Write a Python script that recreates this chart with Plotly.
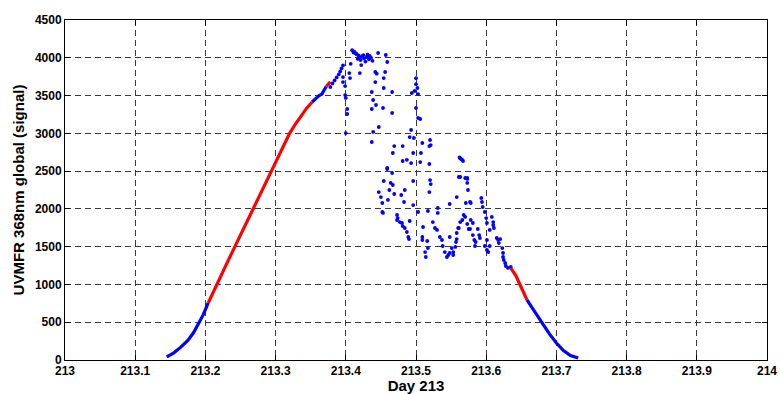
import plotly.graph_objects as go

# Smooth rising part (blue, red, blue, red)
rise_blue1_x = [213.145, 213.155, 213.165, 213.175, 213.183, 213.190, 213.197, 213.204]
rise_blue1_y = [40, 95, 170, 260, 360, 470, 600, 755]
rise_red1_x = [213.204, 213.216, 213.229, 213.242, 213.255, 213.268, 213.282, 213.295, 213.308, 213.320, 213.328, 213.336, 213.344, 213.352]
rise_red1_y = [755, 1000, 1250, 1500, 1750, 2000, 2250, 2500, 2760, 3000, 3120, 3230, 3330, 3415]
rise_blue2_x = [213.352, 213.357, 213.362, 213.366, 213.370, 213.372]
rise_blue2_y = [3415, 3460, 3500, 3520, 3580, 3620]
rise_red2_x = [213.372, 213.375, 213.378]
rise_red2_y = [3620, 3650, 3680]

# Smooth falling part (red then blue)
fall_red_x = [213.635, 213.642, 213.650, 213.658]
fall_red_y = [1215, 1120, 960, 795]
fall_blue_x = [213.658, 213.670, 213.680, 213.690, 213.700, 213.710, 213.720, 213.731]
fall_blue_y = [795, 620, 480, 345, 225, 125, 60, 25]

# Scattered (cloudy) blue samples
scatter_x = [
    213.378, 213.381, 213.384, 213.387, 213.390, 213.392, 213.394, 213.396,
    213.409, 213.412, 213.415, 213.418, 213.420, 213.423, 213.426, 213.430, 213.433, 213.436, 213.438,
    213.411, 213.414, 213.417, 213.421, 213.425, 213.428, 213.431, 213.434,
    213.407, 213.422, 213.420, 213.396, 213.405, 213.406, 213.396, 213.399, 213.399, 213.400, 213.402, 213.402, 213.400,
    213.446, 213.457, 213.459,
    213.442, 213.444, 213.456, 213.442, 213.454, 213.437, 213.454, 213.439, 213.443, 213.437, 213.453, 213.466, 213.466,
    213.447, 213.439, 213.437, 213.469, 213.481,
    213.500, 213.500, 213.502, 213.498, 213.503, 213.494, 213.500, 213.503, 213.506, 213.493, 213.491, 213.497,
    213.520, 213.521, 213.509, 213.519,
    213.467, 213.496, 213.507, 213.481, 213.493, 213.506, 213.519, 213.487, 213.459,
    213.563, 213.564, 213.566, 213.562,
    213.459, 213.466, 213.454, 213.464, 213.467, 213.447, 213.462, 213.469, 213.450, 213.460, 213.452, 213.452, 213.453,
    213.484, 213.479, 213.483, 213.496, 213.520, 213.521, 213.519,
    213.496, 213.503, 213.517, 213.531, 213.531, 213.548, 213.558, 213.563, 213.573, 213.574, 213.571,
    213.473, 213.474, 213.473, 213.477, 213.480, 213.481, 213.484, 213.487, 213.489, 213.490, 213.491,
    213.510, 213.509, 213.509, 213.516, 213.517, 213.513, 213.514,
    213.524, 213.527, 213.530, 213.534, 213.537, 213.538, 213.541, 213.544, 213.546, 213.548,
    213.551, 213.556, 213.557, 213.558, 213.560, 213.563, 213.566, 213.568, 213.573, 213.575,
    213.567, 213.561, 213.570, 213.573, 213.573, 213.577, 213.578, 213.570, 213.578, 213.581,
    213.577, 213.561, 213.558, 213.581, 213.583, 213.585, 213.584, 213.590, 213.588, 213.591,
    213.548, 213.553, 213.553,
    213.593, 213.594, 213.595, 213.598, 213.600, 213.601, 213.601, 213.598, 213.601, 213.603, 213.605,
    213.608, 213.610, 213.610, 213.611, 213.605, 213.615, 213.617, 213.620, 213.618, 213.623,
    213.624, 213.624, 213.625, 213.627, 213.628, 213.631, 213.635,
]
scatter_y = [
    3613, 3660, 3700, 3740, 3780, 3820, 3860, 3900,
    4100, 4080, 4050, 4030, 4000, 4020, 3990, 4010, 3980, 4000, 3960,
    4070, 4060, 3985, 3970, 4035, 3950, 4040, 4025,
    3920, 3904, 3798, 3745, 3798, 3732, 3679, 3626, 3507, 3468, 3322, 3256, 3004,
    4063, 4037, 3944,
    3812, 3790, 3812, 3679, 3732, 3547, 3600, 3441, 3375, 3322, 3335, 3547, 3269,
    3084, 3018, 2885, 2832, 2832,
    3730, 3650, 3600, 3560, 3520, 3534, 3335, 3203, 3190, 3044, 2951, 2938,
    2912, 2845, 2872, 2832,
    2740, 2740, 2740, 2634, 2607, 2620, 2594, 2650, 2541,
    2670, 2660, 2650, 2680,
    2528, 2475, 2369, 2343, 2316, 2223, 2250, 2197, 2157, 2118, 2078, 1959, 1946,
    2250, 2184, 2091, 2369, 2382, 2329, 2223,
    2051, 1959, 1972, 2012, 1946, 2065, 2157, 2422, 2409, 2250, 2078,
    1919, 1879, 1853, 1826, 1813, 1773, 1747, 1694, 1628, 1601, 1840,
    1760, 1628, 1588, 1575, 1482, 1429, 1363,
    1826, 1747, 1721, 1628, 1588, 1509, 1429, 1363, 1390, 1416,
    1482, 1496, 1562, 1681, 1747, 1826, 1853, 1919, 1800, 1734,
    2634, 2422, 2409, 2396, 2343, 2091, 2078, 1893, 1853, 1813,
    1734, 1747, 1601, 1654, 1588, 1562, 1509, 1654, 1734, 1615,
    1628, 1429, 1390,
    2144, 2091, 2025, 1959, 1879, 1813, 1588, 1509, 1456, 1429, 1509,
    1893, 1826, 1787, 1747, 1721, 1615, 1588, 1601, 1548, 1482,
    1416, 1363, 1324, 1284, 1244, 1218, 1231,
]

x_ticks = [213, 213.1, 213.2, 213.3, 213.4, 213.5, 213.6, 213.7, 213.8, 213.9, 214]
x_labels = ["213", "213.1", "213.2", "213.3", "213.4", "213.5", "213.6", "213.7", "213.8", "213.9", "214"]
y_ticks = [0, 500, 1000, 1500, 2000, 2500, 3000, 3500, 4000, 4500]

BLUE = "#0000ff"
RED = "#ff0000"

fig = go.Figure()

def line(x, y, color):
    fig.add_trace(go.Scatter(x=x, y=y, mode="lines", line=dict(color=color, width=3.2),
                             showlegend=False, hoverinfo="skip"))

fig.add_trace(go.Scatter(x=scatter_x, y=scatter_y, mode="markers",
                         marker=dict(color=BLUE, size=3.8, line=dict(width=0)),
                         showlegend=False))
line(rise_blue1_x, rise_blue1_y, BLUE)
line(rise_red1_x, rise_red1_y, RED)
line(rise_blue2_x, rise_blue2_y, BLUE)
line(rise_red2_x, rise_red2_y, RED)
line(fall_red_x, fall_red_y, RED)
line(fall_blue_x, fall_blue_y, BLUE)

font_family = "Liberation Sans, Arial, sans-serif"
axis_common = dict(
    showline=True, linecolor="black", linewidth=1, mirror="ticks",
    ticks="inside", ticklen=5, tickcolor="black", tickwidth=1,
    showgrid=True, gridcolor="#3a3a3a", gridwidth=1, griddash="6px,4px",
    zeroline=False,
    tickfont=dict(family=font_family, size=12, color="black", weight="bold"),
)

fig.update_xaxes(range=[213, 214], tickvals=x_ticks, ticktext=x_labels,
                 title=dict(text="Day 213", standoff=2,
                            font=dict(family=font_family, size=15, color="black", weight="bold")),
                 **axis_common)
fig.update_yaxes(range=[0, 4500], tickvals=y_ticks,
                 title=dict(text="UVMFR 368nm global (signal)", standoff=6,
                            font=dict(family=font_family, size=15, color="black", weight="bold")),
                 **axis_common)

fig.update_layout(
    width=780, height=394,
    margin=dict(l=65, r=13, t=20, b=34, autoexpand=False),
    plot_bgcolor="white", paper_bgcolor="white",
    showlegend=False,
)

fig.write_html("out.html", config={"displayModeBar": False},
               post_script="document.body.style.margin='0';")
